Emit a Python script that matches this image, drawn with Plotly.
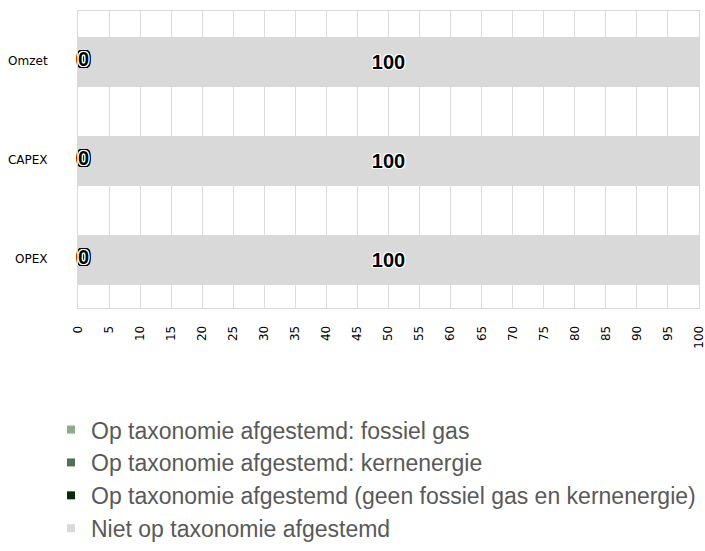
import plotly.graph_objects as go

categories = ["Omzet", "CAPEX", "OPEX"]
series_names = [
    "Op taxonomie afgestemd: fossiel gas",
    "Op taxonomie afgestemd: kernenergie",
    "Op taxonomie afgestemd (geen fossiel gas en kernenergie)",
    "Niet op taxonomie afgestemd",
]
fossiel_gas = [0, 0, 0]
kernenergie = [0, 0, 0]
geen_fossiel = [0, 0, 0]
niet_afgestemd = [100, 100, 100]
series_values = [fossiel_gas, kernenergie, geen_fossiel, niet_afgestemd]
colors = ["#8fa98d", "#4f7253", "#072b09", "#d9d9d9"]
x_ticks = list(range(0, 101, 5))

fig = go.Figure()

halo = ("1px 0 0 white, -1px 0 0 white, 0 1px 0 white, 0 -1px 0 white, "
        "1px 1px 0 white, -1px -1px 0 white, 1px -1px 0 white, -1px 1px 0 white")
ring = halo + (", 2px 0 0 black, -2px 0 0 black, 0 2px 0 black, 0 -2px 0 black, "
               "2px 2px 0 black, -2px -2px 0 black, 2px -2px 0 black, -2px 2px 0 black")

for name, vals, col in zip(series_names, series_values, colors):
    is_last = name == series_names[-1]
    fig.add_trace(go.Bar(
        y=categories, x=vals, orientation="h", name=name,
        marker=dict(color=col, line=dict(width=0)),
        width=0.5, offset=-0.237,
        showlegend=False,
        text=[str(v) for v in vals] if is_last else None,
        textposition="inside" if is_last else "none",
        insidetextanchor="middle",
        textfont=dict(family="Liberation Sans", size=20, color="black",
                      weight="bold", shadow=halo),
        hoverinfo="x+y+name",
    ))

# labels for the zero-valued aligned series
cum = [0, 0, 0]
for name, vals in zip(series_names[:3], series_values[:3]):
    fig.add_trace(go.Scatter(
        y=categories, x=[c + v for c, v in zip(cum, vals)], mode="text",
        text=[str(v) for v in vals], textposition="middle right",
        textfont=dict(family="Liberation Sans", size=20, color="black",
                      weight="bold", shadow=ring),
        showlegend=False, hoverinfo="skip", cliponaxis=False,
    ))
    cum = [c + v for c, v in zip(cum, vals)]

# legend entries with small square markers
for name, col in zip(series_names, colors):
    fig.add_trace(go.Scatter(
        x=[None], y=[None], mode="markers", name=name,
        marker=dict(symbol="square", size=8, color=col),
        showlegend=True,
    ))

fig.update_layout(
    width=705, height=551,
    margin=dict(l=78, r=6, t=11, b=243, autoexpand=False),
    barmode="stack",
    plot_bgcolor="white", paper_bgcolor="white",
    font=dict(family="DejaVu Sans", size=12, color="black"),
    legend=dict(
        orientation="v", traceorder="normal",
        x=-0.0435, xanchor="left", y=-0.337, yanchor="top",
        font=dict(family="Liberation Sans", size=23, color="#595959"),
        itemwidth=30, bgcolor="rgba(0,0,0,0)",
    ),
    showlegend=True,
)
fig.update_xaxes(
    range=[0, 100], tickvals=x_ticks, ticktext=[str(t) for t in x_ticks],
    tickangle=-90, showgrid=True, gridcolor="#dcdcdc", gridwidth=1,
    showline=True, linecolor="#d9d9d9", mirror=True, zeroline=False,
    ticks="", ticklabelstandoff=12, ticklabeloverflow="allow",
    tickfont=dict(family="DejaVu Sans", size=12, color="black"),
)
fig.update_yaxes(
    categoryorder="array", categoryarray=categories, autorange="reversed",
    showgrid=False, showline=True, linecolor="#d9d9d9", mirror=True,
    ticks="", ticklabelstandoff=27,
    tickfont=dict(family="DejaVu Sans", size=12, color="black"),
)

fig.write_html(
    "out.html",
    config={"displayModeBar": False},
    post_script="document.body.style.margin='0';document.body.style.overflow='hidden';",
)
